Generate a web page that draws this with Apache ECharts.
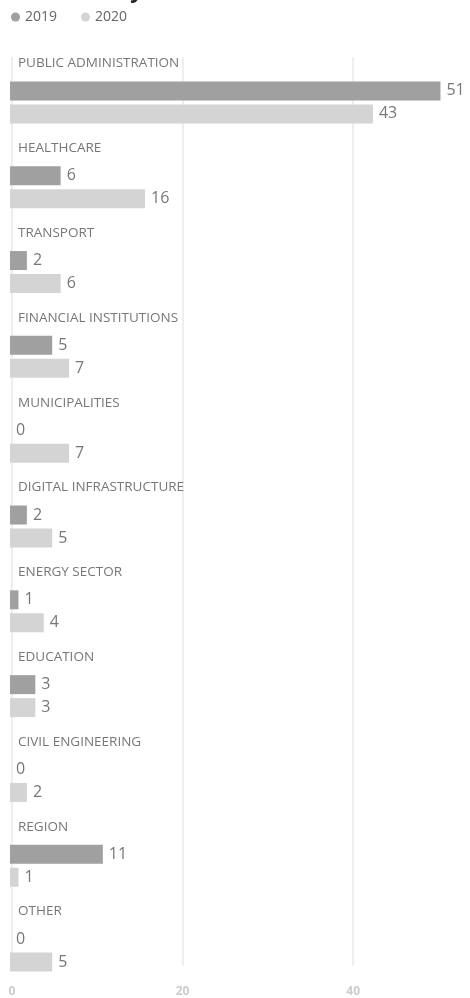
<!DOCTYPE html>
<html>
<head>
<meta charset="utf-8">
<title>Incidents by sector</title>
<script src="https://cdn.jsdelivr.net/npm/echarts@6/dist/echarts.min.js"></script>
<style>
  html, body { margin: 0; padding: 0; background: #ffffff; }
  #chart { width: 470px; height: 998px; }
</style>
</head>
<body>
<div id="chart"></div>
<script>
// sectors, top to bottom
var categories = [
  'PUBLIC ADMINISTRATION', 'HEALTHCARE', 'TRANSPORT', 'FINANCIAL INSTITUTIONS',
  'MUNICIPALITIES', 'DIGITAL INFRASTRUCTURE', 'ENERGY SECTOR', 'EDUCATION',
  'CIVIL ENGINEERING', 'REGION', 'OTHER'
]
var values2019 = [51, 6, 2, 5, 0, 2, 1, 3, 0, 11, 0]
var values2020 = [43, 16, 6, 7, 7, 5, 4, 3, 2, 1, 5]
var years = ['2019', '2020']
var xTicks = [0, 20, 40]

var font = '"Open Sans", "Noto Sans", sans-serif'
var chart = echarts.init(document.getElementById('chart'))

chart.setOption({
  animation: false,
  color: ['#a0a0a0', '#d4d4d4'],
  title: {
    text: 'Incidents by sector',
    left: 4,
    top: -24,
    textStyle: { fontFamily: font, fontSize: 22, fontWeight: 'bold', color: '#252423' }
  },
  legend: {
    data: years,
    left: 6,
    top: 5,
    icon: 'circle',
    itemWidth: 9,
    itemHeight: 9,
    itemGap: 24,
    textStyle: { fontFamily: font, fontSize: 14, color: '#666666' }
  },
  grid: [
    // grid 0: only the vertical gridlines and tick labels
    { left: 12, right: 0, top: 57, bottom: 32 },
    // grid 1: the bars
    { left: 10, right: 0, top: 60, bottom: 5 }
  ],
  xAxis: [
    {
      gridIndex: 0,
      type: 'value',
      min: 0,
      max: 53.7,
      interval: 20,
      axisLine: { show: false },
      axisTick: { show: false },
      splitLine: { showMaxLine: false, lineStyle: { color: '#e8e8e8', width: 1.5 } },
      axisLabel: {
        margin: 20,
        showMaxLabel: false,
        fontFamily: font,
        fontSize: 12,
        fontWeight: 'bold',
        color: '#cccccc',
        formatter: function (v) { return xTicks.indexOf(v) >= 0 ? String(v) : '' }
      }
    },
    {
      gridIndex: 1,
      type: 'value',
      min: 0,
      max: 54.5,
      show: false
    }
  ],
  yAxis: [
    { gridIndex: 0, type: 'value', show: false },
    {
      gridIndex: 1,
      type: 'category',
      inverse: true,
      data: categories,
      axisLine: { show: false },
      axisTick: { show: false },
      axisLabel: {
        inside: true,
        interval: 0,
        showMinLabel: true,
        showMaxLabel: true,
        hideOverlap: false,
        margin: 8,
        align: 'left',
        verticalAlign: 'middle',
        lineHeight: 13,
        fontFamily: font,
        fontSize: 13.5,
        color: '#777777',
        // trailing blank lines push the name up above its two bars
        formatter: function (v) { return v + '\n\n\n\n\n\n' }
      }
    }
  ],
  series: [
    {
      name: '2019',
      type: 'bar',
      xAxisIndex: 1,
      yAxisIndex: 1,
      data: values2019,
      barWidth: 19,
      barGap: '21%',
      label: { show: true, position: 'right', distance: 6, fontFamily: font, fontSize: 16, color: '#777777' }
    },
    {
      name: '2020',
      type: 'bar',
      xAxisIndex: 1,
      yAxisIndex: 1,
      data: values2020,
      barWidth: 19,
      barGap: '21%',
      label: { show: true, position: 'right', distance: 6, fontFamily: font, fontSize: 16, color: '#777777' }
    }
  ]
})
</script>
</body>
</html>
